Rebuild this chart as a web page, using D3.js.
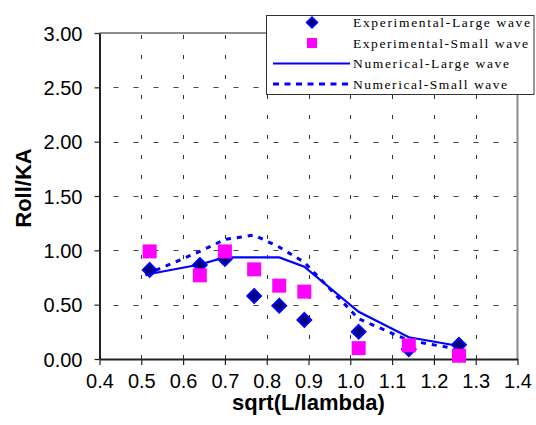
<!DOCTYPE html>
<html>
<head>
<meta charset="utf-8">
<script src="https://cdn.jsdelivr.net/npm/d3@7/dist/d3.min.js"></script>
<style>
  html, body { margin: 0; padding: 0; background: #fff; }
  svg { display: block; }
</style>
</head>
<body>
<svg id="chart" width="536" height="425"></svg>
<script>
// ---- data ----
const expX = [0.52, 0.64, 0.70, 0.77, 0.83, 0.89, 1.02, 1.14, 1.26];
const expLarge = [0.82, 0.865, 0.92, 0.58, 0.49, 0.36, 0.25, 0.09, 0.13];
const expSmall = [0.99, 0.77, 0.99, 0.825, 0.675, 0.62, 0.10, 0.125, 0.03];
const numX = [0.51, 0.64, 0.70, 0.77, 0.83, 0.89, 1.02, 1.14, 1.26];
const numLarge = [0.775, 0.87, 0.935, 0.935, 0.935, 0.85, 0.435, 0.20, 0.12];
const numSmall = [0.775, 0.99, 1.10, 1.14, 1.03, 0.89, 0.37, 0.17, 0.09];
const xTicks = [0.4, 0.5, 0.6, 0.7, 0.8, 0.9, 1.0, 1.1, 1.2, 1.3, 1.4];
const yTicks = [0, 0.5, 1.0, 1.5, 2.0, 2.5, 3.0];
const seriesNames = ["Experimental-Large wave", "Experimental-Small wave", "Numerical-Large wave", "Numerical-Small wave"];

// ---- layout ----
const svg = d3.select("#chart");
const L = 99.5, R = 517.5, T = 33, B = 359;
const x = d3.scaleLinear().domain([0.4, 1.4]).range([L, R]);
const y = d3.scaleLinear().domain([0, 3]).range([B, T]);

// gridlines
const grid = svg.append("g");
grid.selectAll("line.vg").data(xTicks.slice(1, -1)).join("line")
  .attr("x1", d => Math.round(x(d)) + 0.5).attr("x2", d => Math.round(x(d)) + 0.5)
  .attr("y1", T).attr("y2", B)
  .attr("stroke", "#333").attr("stroke-width", 1)
  .attr("stroke-dasharray", "4,16").attr("stroke-dashoffset", -2);
grid.selectAll("line.hg").data(yTicks.slice(1, -1)).join("line")
  .attr("x1", L).attr("x2", R)
  .attr("y1", d => Math.round(y(d)) + 0.5).attr("y2", d => Math.round(y(d)) + 0.5)
  .attr("stroke", "#444").attr("stroke-width", 1)
  .attr("stroke-dasharray", "5,15").attr("stroke-dashoffset", -14);

// plot border (top/right gray)
svg.append("line").attr("x1", L).attr("x2", R).attr("y1", T).attr("y2", T)
  .attr("stroke", "#8c8c8c").attr("stroke-width", 2);
svg.append("line").attr("x1", R).attr("x2", R).attr("y1", T).attr("y2", B)
  .attr("stroke", "#8c8c8c").attr("stroke-width", 2);

// axes
const xAxis = d3.axisBottom(x).tickValues(xTicks).tickFormat(d3.format(".1f")).tickSizeInner(6).tickSizeOuter(0).tickPadding(9);
const yAxis = d3.axisLeft(y).tickValues(yTicks).tickFormat(d3.format(".2f")).tickSizeInner(5).tickSizeOuter(0).tickPadding(12);

const gx = svg.append("g").attr("transform", `translate(0,${B})`).call(xAxis);
const gy = svg.append("g").attr("transform", `translate(${L},0)`).call(yAxis);
[gx, gy].forEach(g => {
  g.select(".domain").attr("stroke", "#222").attr("stroke-width", 2);
  g.selectAll(".tick line").attr("stroke", "#222").attr("stroke-width", 1.2);
  g.selectAll(".tick text").attr("font-family", "Liberation Sans, Arial, sans-serif")
    .attr("font-size", 20).attr("fill", "#000");
});
gy.selectAll(".tick text").attr("dy", "0.36em");

// axis titles
svg.append("text").attr("x", (L + R) / 2).attr("y", 410).attr("text-anchor", "middle")
  .attr("font-family", "Liberation Sans, Arial, sans-serif").attr("font-weight", "bold")
  .attr("font-size", 22).text("sqrt(L/lambda)");
svg.append("text").attr("transform", "translate(31,188) rotate(-90)").attr("text-anchor", "middle")
  .attr("font-family", "Liberation Sans, Arial, sans-serif").attr("font-weight", "bold")
  .attr("font-size", 22).text("Roll/KA");

// lines
const line = d3.line().x(d => x(d[0])).y(d => y(d[1]));
svg.append("path").datum(numX.map((v, i) => [v, numSmall[i]])).attr("d", line)
  .attr("fill", "none").attr("stroke", "#0000ff").attr("stroke-width", 3)
  .attr("stroke-dasharray", "5,6");
svg.append("path").datum(numX.map((v, i) => [v, numLarge[i]])).attr("d", line)
  .attr("fill", "none").attr("stroke", "#0000ff").attr("stroke-width", 2.2);

// markers
const diamond = (cx, cy, r) => `M${cx},${cy - r}L${cx + r},${cy}L${cx},${cy + r}L${cx - r},${cy}Z`;
svg.append("g").selectAll("path").data(expX.map((v, i) => [v, expLarge[i]])).join("path")
  .attr("d", d => diamond(x(d[0]), y(d[1]), 7))
  .attr("fill", "#000080").attr("stroke", "#0000ff").attr("stroke-width", 1.8);
svg.append("g").selectAll("rect").data(expX.map((v, i) => [v, expSmall[i]])).join("rect")
  .attr("x", d => x(d[0]) - 7).attr("y", d => y(d[1]) - 7)
  .attr("width", 14).attr("height", 14).attr("fill", "#ff00ff");

// legend
const lg = svg.append("g");
lg.append("rect").attr("x", 266.5).attr("y", 15.5).attr("width", 267.5).attr("height", 79)
  .attr("fill", "#fff").attr("stroke", "#333").attr("stroke-width", 1);
const rowsY = [22.5, 43, 63.5, 84];
lg.append("path").attr("d", diamond(312, rowsY[0], 5.5)).attr("fill", "#000080").attr("stroke", "#0000ff").attr("stroke-width", 1.5);
lg.append("rect").attr("x", 307).attr("y", rowsY[1] - 5).attr("width", 10).attr("height", 10).attr("fill", "#ff00ff");
lg.append("line").attr("x1", 273).attr("x2", 350).attr("y1", rowsY[2]).attr("y2", rowsY[2])
  .attr("stroke", "#0000ff").attr("stroke-width", 2);
lg.append("line").attr("x1", 273).attr("x2", 350).attr("y1", rowsY[3]).attr("y2", rowsY[3])
  .attr("stroke", "#0000ff").attr("stroke-width", 3).attr("stroke-dasharray", "6,5.5");
const textLens = [177, 175, 156, 154];
lg.selectAll("text").data(seriesNames).join("text")
  .attr("x", 353).attr("y", (d, i) => rowsY[i] + 4.5)
  .attr("font-family", "Liberation Serif, Times New Roman, serif").attr("font-size", 13.5)
  .attr("textLength", (d, i) => textLens[i]).attr("lengthAdjust", "spacing")
  .attr("fill", "#000").text(d => d);
</script>
</body>
</html>
